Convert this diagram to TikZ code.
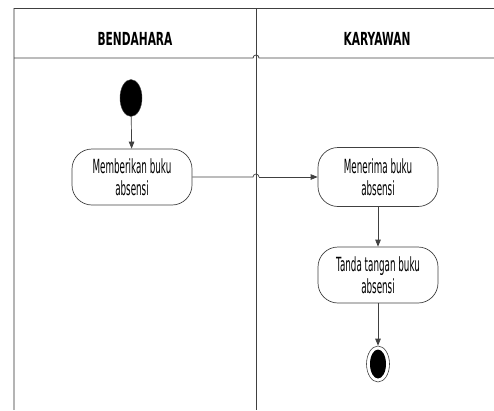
\documentclass[tikz,border=0pt]{standalone}
\usepackage{fontspec}
\setmainfont{DejaVu Sans}[FakeStretch=0.45]
\newfontfamily\headfont{DejaVu Sans}[FakeStretch=0.59]
\usetikzlibrary{arrows.meta,calc,shapes.geometric}
\definecolor{linegray}{HTML}{404040}
\definecolor{edgegray}{HTML}{B4B4B4}
\begin{document}
\begin{tikzpicture}[x=1pt,y=-1pt,
  lane/.style={draw=linegray,line width=0.9pt},
  laneedge/.style={draw=edgegray,line width=1.6pt},
  header/.style={font=\headfont\bfseries\fontsize{18}{21}\selectfont,text=black},
  activity/.style={draw=linegray,line width=0.7pt,rounded corners=20pt,
    minimum width=120pt,align=center,inner sep=2pt,
    font=\fontsize{19.5}{21.5}\selectfont,text=black},
  flow/.style={draw=linegray,line width=0.7pt,-{Triangle[length=7pt,width=5.5pt]}},
  hop/.style={draw=linegray,line width=0.7pt}]
\useasboundingbox (0,0) rectangle (494,410);

% swimlane frame
\coordinate (tl) at (14,8);
\coordinate (tr) at (494,8);
\coordinate (bl) at (14,410);
\coordinate (st) at (256,8);
\coordinate (sb) at (256,410);
\coordinate (hl) at (14,58);
\coordinate (hr) at (494,58);
\draw[laneedge] (tl) -- (bl);
\draw[lane] (tl) -- (tr);
\draw[lane,line width=0.7pt] (st) -- (sb);
\draw[lane,line width=0.8pt] (hl) -- ($(hl -| st)+(-3,0)$) arc (180:360:3) -- (hr);

\node[header] (lane1) at (135,39) {BENDAHARA};
\node[header] (lane2) at (377,39) {KARYAWAN};

% actions
\node[ellipse,fill=black,draw=linegray,minimum width=22pt,minimum height=37pt,inner sep=0pt] (start) at (131,98) {};
\node[activity,minimum height=56pt] (give) at (132,177) {Memberikan buku\\absensi};
\node[activity,minimum height=59pt] (take) at (378,177) {Menerima buku\\absensi};
\node[activity,minimum height=56pt] (sign) at (378,275) {Tanda tangan buku\\absensi};
\node[ellipse,draw=linegray,line width=0.6pt,minimum width=23pt,minimum height=36pt,inner sep=0pt] (end) at (378,364) {};
\node[ellipse,fill=black,minimum width=16pt,minimum height=29pt,inner sep=0pt] (endin) at (end.center) {};

% flows
\draw[flow] (start) -- (give);
\draw[hop] (give.east) -- ($(give.east -| st)+(-3,0)$) arc (180:360:3) coordinate (hopend);
\draw[flow] (hopend) -- (take.west);
\draw[flow] (take) -- (sign);
\draw[flow] (sign) -- (end);
\end{tikzpicture}
\end{document}
